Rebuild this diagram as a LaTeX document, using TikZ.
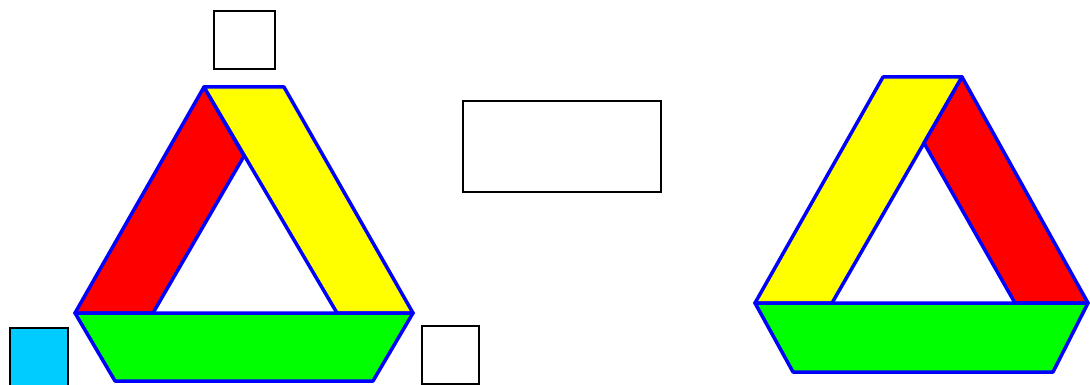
\documentclass[tikz,border=0pt]{standalone}
\definecolor{skyc}{RGB}{0,204,255}
\definecolor{grn}{RGB}{0,255,0}
\definecolor{ylw}{RGB}{255,255,0}
\definecolor{rd}{RGB}{255,0,0}
\begin{document}
\begin{tikzpicture}[x=1pt,y=-1pt,
  band/.style={draw=blue,line width=3.5pt,line join=round},
  box/.style={draw=black,line width=1.8pt,inner sep=0pt,anchor=north west}]
\useasboundingbox (0,0) rectangle (1090,385);
% left triangle
\path[band,fill=rd] (204,87) -- (75,313) -- (153,313) -- (244,156) -- cycle;
\path[band,fill=ylw] (204,87) -- (284,87) -- (413,313) -- (337,313) -- cycle;
\path[band,fill=grn] (75,313) -- (413,313) -- (373,381) -- (115,381) -- cycle;
% right triangle
\path[band,fill=ylw] (883,77) -- (962,77) -- (832,303) -- (755,303) -- cycle;
\path[band,fill=rd] (962,77) -- (1088,303) -- (1015,303) -- (924,143) -- cycle;
\path[band,fill=grn] (755,303) -- (1088,303) -- (1053,372) -- (793,372) -- cycle;
% boxes
\node[box,minimum width=61pt,minimum height=58pt] (top) at (213,10) {};
\node[box,fill=skyc,minimum width=58pt,minimum height=58pt] (cyan) at (9,327) {};
\node[box,minimum width=57pt,minimum height=58pt] (rbox) at (421,325) {};
\node[box,minimum width=198pt,minimum height=91pt] (mid) at (462,100) {};
\end{tikzpicture}
\end{document}
